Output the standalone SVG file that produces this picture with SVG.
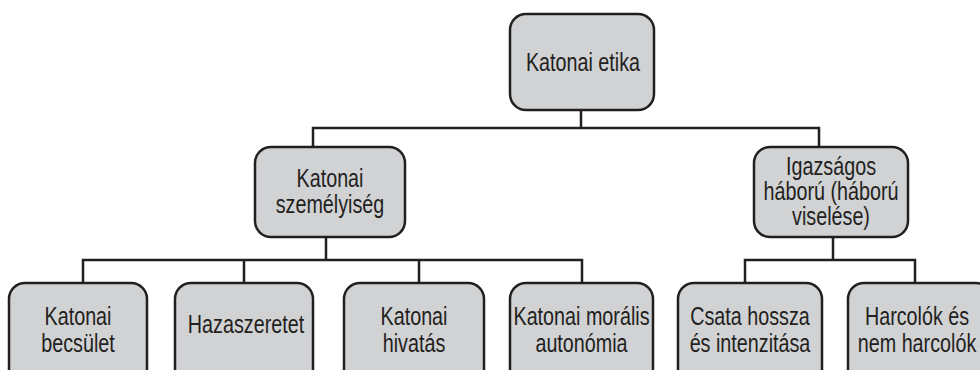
<svg xmlns="http://www.w3.org/2000/svg" width="980" height="370" viewBox="0 0 980 370">
<style>
.box{fill:#d1d2d4;stroke:#231f20;stroke-width:2.5}
.t{font-family:"Liberation Sans",Arial,sans-serif;font-size:25px;fill:#231f20;text-anchor:middle}
.c{fill:none;stroke:#231f20;stroke-width:2.5}
</style>
<rect width="980" height="370" fill="#ffffff"/>
<g id="connectors">
<path class="c" d="M581 110V128M313 147V128H819V147"/>
<path class="c" d="M326 237V260M83 283V260H582V283M244 260V283M419 260V283"/>
<path class="c" d="M833 237V260M745 283V260H915V283"/>
</g>
<g id="n-etika">
<rect class="box" x="510" y="14" width="144" height="96" rx="16"/>
<text class="t" transform="translate(583,0) scale(0.79,1)" y="71">Katonai etika</text>
</g>
<g id="n-szemelyiseg">
<rect class="box" x="255" y="147" width="150" height="90" rx="16"/>
<text class="t" transform="translate(330,0) scale(0.79,1)"><tspan x="0" y="187">Katonai</tspan><tspan x="0" y="213">személyiség</tspan></text>
</g>
<g id="n-igazsagos">
<rect class="box" x="754" y="147" width="154" height="90" rx="16"/>
<text class="t" transform="translate(831,0) scale(0.79,1)"><tspan x="0" y="175">Igazságos</tspan><tspan x="0" y="200">háború (háború</tspan><tspan x="0" y="225">viselése)</tspan></text>
</g>
<g id="n-becsulet">
<rect class="box" x="9" y="283" width="138" height="110" rx="16"/>
<text class="t" transform="translate(78,0) scale(0.79,1)"><tspan x="0" y="325">Katonai</tspan><tspan x="0" y="352">becsület</tspan></text>
</g>
<g id="n-haza">
<rect class="box" x="175" y="283" width="138" height="110" rx="16"/>
<text class="t" transform="translate(246,0) scale(0.79,1)" y="333">Hazaszeretet</text>
</g>
<g id="n-hivatas">
<rect class="box" x="344" y="283" width="140" height="110" rx="16"/>
<text class="t" transform="translate(414,0) scale(0.79,1)"><tspan x="0" y="325">Katonai</tspan><tspan x="0" y="352">hivatás</tspan></text>
</g>
<g id="n-autonomia">
<rect class="box" x="510" y="283" width="143" height="110" rx="16"/>
<text class="t" transform="translate(581.5,0) scale(0.79,1)"><tspan x="0" y="325">Katonai morális</tspan><tspan x="0" y="352">autonómia</tspan></text>
</g>
<g id="n-csata">
<rect class="box" x="678" y="283" width="144" height="110" rx="16"/>
<text class="t" transform="translate(750,0) scale(0.79,1)"><tspan x="0" y="325">Csata hossza</tspan><tspan x="0" y="352">és intenzitása</tspan></text>
</g>
<g id="n-harcolok">
<rect class="box" x="848" y="283" width="144" height="110" rx="16"/>
<text class="t" transform="translate(917,0) scale(0.79,1)"><tspan x="0" y="325">Harcolók és</tspan><tspan x="0" y="352">nem harcolók</tspan></text>
</g>
</svg>
